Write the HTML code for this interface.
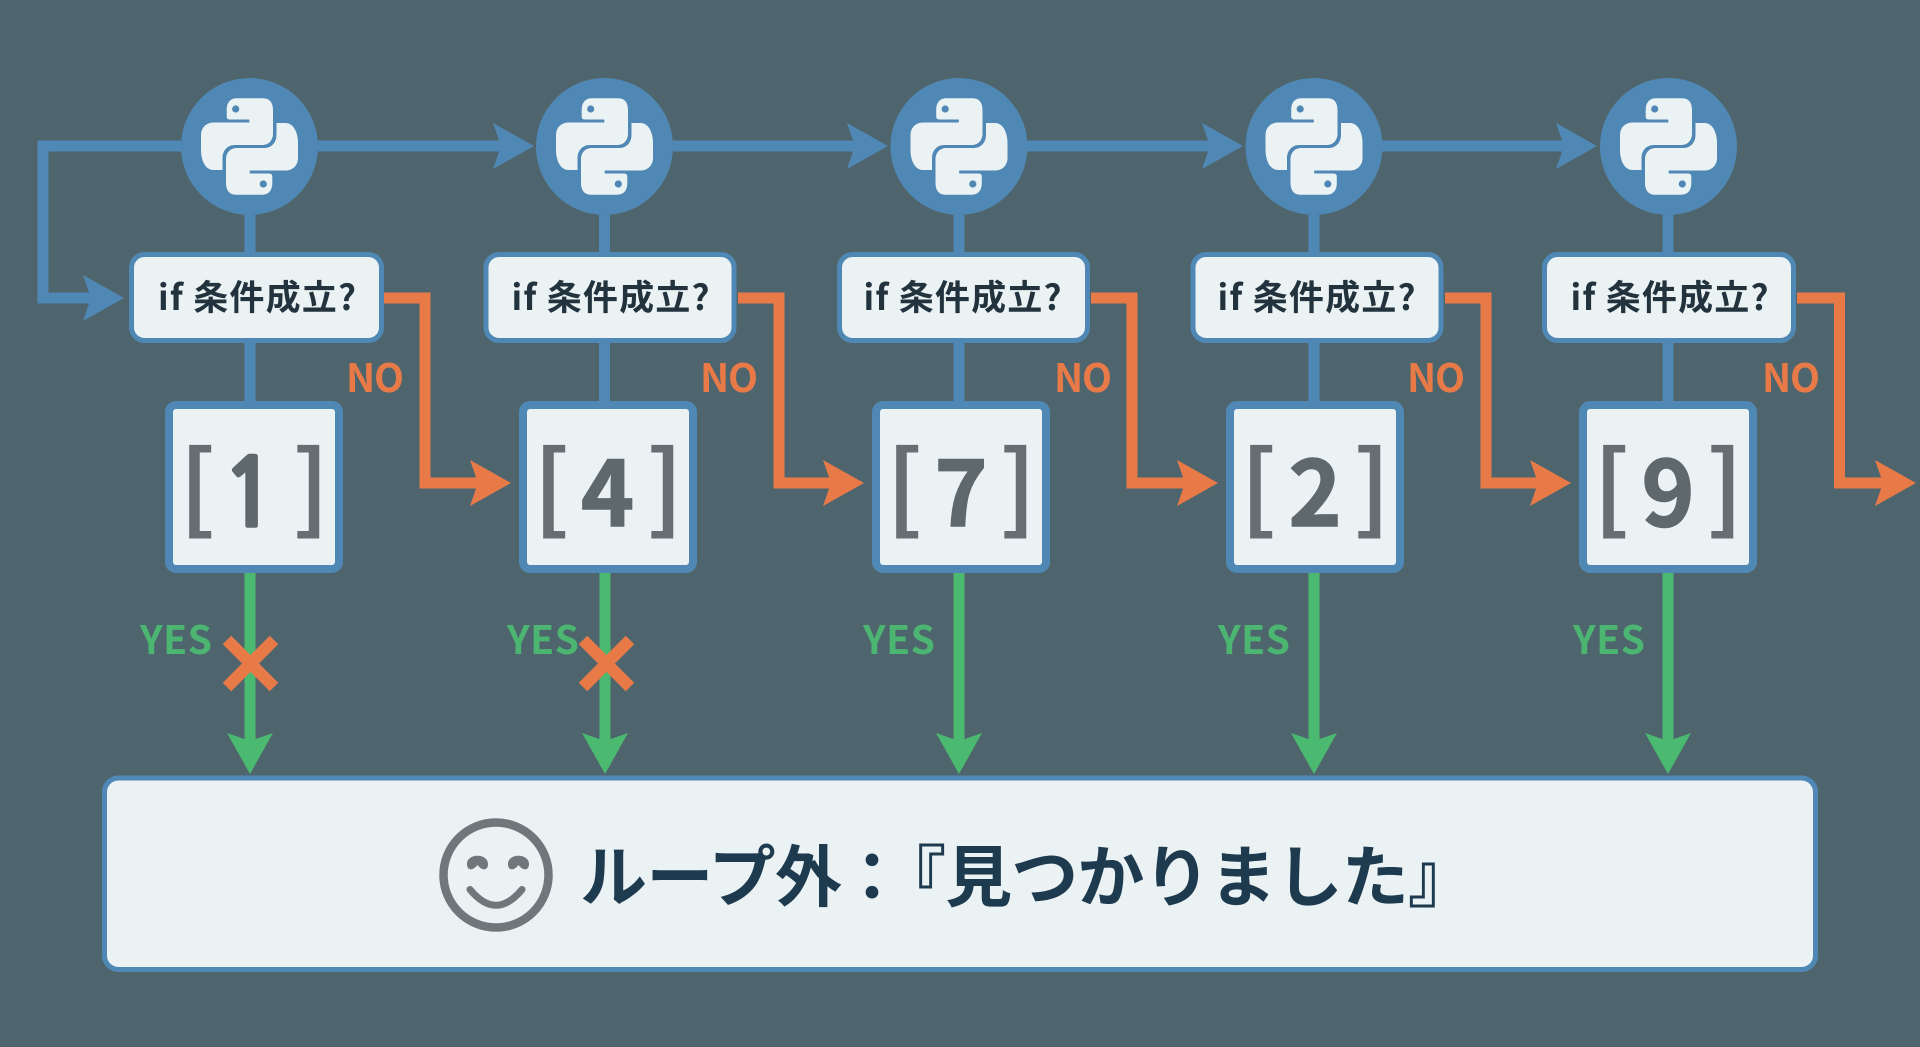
<!DOCTYPE html>
<html lang="ja"><head><meta charset="utf-8"><title>ループ</title>
<style>
html,body{margin:0;padding:0;background:#4f656d;width:1920px;height:1047px;overflow:hidden}
svg{display:block}
text{font-family:"Noto Sans CJK JP","Liberation Sans",sans-serif;font-weight:700}
.c{font-size:35px;fill:#23333e}
.d{font-size:90px;fill:#5f686d;stroke:#5f686d;stroke-width:1.500;text-anchor:middle}
.b{font-size:96px;fill:#666e73;font-weight:700}
.e{text-anchor:end}
.n{font-size:39px;fill:#e87a48}
.y{font-size:39px;fill:#4bb571}
.t{font-size:67px;fill:#1e3a4f}
</style></head><body>
<svg width="1920" height="1047" viewBox="0 0 1920 1047" xmlns="http://www.w3.org/2000/svg">
<defs>
<g id="py">
<circle r="68.5" fill="#5088b5"/>
<g id="sn"><path fill="#ebf2f4" d="M-22.8-36.5C-22.8-44-19-48.200-12.800-48.200H13.800C20-48.200 23.500-44 23.500-36.500V-13C23.500-6 19-1.500 12.800-1.500H-14.500C-22-1.500-27 4-27 11.800V23.500H-36C-44 23.500-48.500 14-48.500 3.500V-11.500C-48.500-19-43-24-36-24H-.2V-27H-19.500Q-22.800-27-22.800-30Z"/><circle cx="-13.800" cy="-37.500" r="3.600" fill="#5088b5"/></g>
<use href="#sn" transform="rotate(180)"/>
</g>
<path id="ah" d="M0 0L-41-23L-33 0L-41 23Z"/>
</defs>
<rect width="1920" height="1047" fill="#4f656d"/>

<g stroke="#5088b5" stroke-width="11" fill="none">
<path d="M181 146H43V298H95"/>
<path d="M318 146H505M673 146H860M1027 146H1214M1382 146H1570"/>
<path d="M250 215V252M250 343V401M604.500 215V252M604.500 343V401M959 215V252M959 343V401M1314 215V252M1314 343V401M1668 215V252M1668 343V401"/>
</g>
<g fill="#5088b5">
<use href="#ah" x="124" y="298"/>
<use href="#ah" x="534" y="146"/>
<use href="#ah" x="888" y="146"/>
<use href="#ah" x="1243" y="146"/>
<use href="#ah" x="1597" y="146"/>
</g>
<use href="#py" x="249.500" y="146.500"/>
<use href="#py" x="604.500" y="146.500"/>
<use href="#py" x="959" y="146.500"/>
<use href="#py" x="1314" y="146.500"/>
<use href="#py" x="1668.500" y="146.500"/>

<g fill="#ebf2f4" stroke="#5088b5" stroke-width="5">
<rect x="131.500" y="254.500" width="250" height="86" rx="13"/>
<rect x="486" y="254.500" width="248" height="86" rx="13"/>
<rect x="839.500" y="254.500" width="248" height="86" rx="13"/>
<rect x="1193" y="254.500" width="248" height="86" rx="13"/>
<rect x="1544.500" y="254.500" width="249" height="86" rx="13"/>
</g>
<text class="c" x="158" y="310" textLength="198">if 条件成立?</text>
<text class="c" x="511.500" y="310" textLength="198">if 条件成立?</text>
<text class="c" x="863.500" y="310" textLength="198">if 条件成立?</text>
<text class="c" x="1217.500" y="310" textLength="198">if 条件成立?</text>
<text class="c" x="1570.500" y="310" textLength="198">if 条件成立?</text>

<g fill="#ebf2f4" stroke="#5088b5" stroke-width="8">
<rect x="169" y="405" width="170" height="164" rx="7"/>
<rect x="523" y="405" width="170" height="164" rx="7"/>
<rect x="876" y="405" width="170" height="164" rx="7"/>
<rect x="1230" y="405" width="170" height="164" rx="7"/>
<rect x="1583" y="405" width="170" height="164" rx="7"/>
</g>
<text class="b" x="179.500" y="522">[</text><text class="d" x="249.500" y="526" style="font-family:'NanumGothic',sans-serif;font-size:94px;stroke-width:2.500">1</text><text class="b e" x="329" y="522">]</text>
<text class="b" x="533.500" y="522">[</text><text class="d" x="607.500" y="526">4</text><text class="b e" x="683" y="522">]</text>
<text class="b" x="886.500" y="522">[</text><text class="d" x="961" y="526">7</text><text class="b e" x="1036" y="522">]</text>
<text class="b" x="1240.500" y="522">[</text><text class="d" x="1315" y="526">2</text><text class="b e" x="1390" y="522">]</text>
<text class="b" x="1593.500" y="522">[</text><text class="d" x="1668" y="526">9</text><text class="b e" x="1743" y="522">]</text>

<g stroke="#e87a48" stroke-width="11" fill="none">
<path d="M384 298H425V483H485"/>
<path d="M738 298H779V483H838"/>
<path d="M1091 298H1132V483H1192"/>
<path d="M1445 298H1486V483H1545"/>
<path d="M1797 298H1839.500V483H1890"/>
</g>
<g fill="#e87a48">
<use href="#ah" x="511" y="483"/>
<use href="#ah" x="864" y="483"/>
<use href="#ah" x="1218" y="483"/>
<use href="#ah" x="1571" y="483"/>
<use href="#ah" x="1916" y="483"/>
</g>
<text class="n" x="346" y="392" textLength="58">NO</text>
<text class="n" x="700" y="392" textLength="58">NO</text>
<text class="n" x="1054" y="392" textLength="58">NO</text>
<text class="n" x="1407" y="392" textLength="58">NO</text>
<text class="n" x="1762" y="392" textLength="58">NO</text>

<g stroke="#4bb96f" stroke-width="11" fill="none">
<path d="M250 573V750M605 573V750M959 573V750M1314 573V750M1668 573V750"/>
</g>
<g fill="#4bb96f">
<use href="#ah" transform="translate(250 774) rotate(90)"/>
<use href="#ah" transform="translate(605 774) rotate(90)"/>
<use href="#ah" transform="translate(959 774) rotate(90)"/>
<use href="#ah" transform="translate(1314 774) rotate(90)"/>
<use href="#ah" transform="translate(1668 774) rotate(90)"/>
</g>
<text class="y" x="140" y="654" textLength="72">YES</text>
<text class="y" x="507" y="654" textLength="72">YES</text>
<text class="y" x="863" y="654" textLength="72">YES</text>
<text class="y" x="1218" y="654" textLength="72">YES</text>
<text class="y" x="1573" y="654" textLength="72">YES</text>
<g stroke="#e87a48" stroke-width="12" fill="none">
<path d="M227 640L274 687M274 640L227 687"/>
<path d="M583 640L630 687M630 640L583 687"/>
</g>

<rect x="104.500" y="778" width="1711" height="191.500" rx="14" fill="#ebf2f4" stroke="#5088b5" stroke-width="5"/>
<circle cx="496" cy="875" r="52.500" fill="none" stroke="#6f777b" stroke-width="8.500"/>
<path d="M470 889.500Q496 921 522 889.500" fill="none" stroke="#6f777b" stroke-width="7" stroke-linecap="round"/>
<path d="M467 864C467 853 488 853 488 864C488 871 482 871 477.500 865C473 871 467 871 467 864ZM508 864C508 853 529 853 529 864C529 871 523 871 518.500 865C514 871 508 871 508 864Z" fill="#6f777b"/>
<text class="t" x="580" y="901" textLength="262">ループ外</text>
<text class="t" x="872" y="901" text-anchor="middle">：</text>
<text class="t" x="879" y="901" textLength="596">『見つかりました』</text>
</svg>
</body></html>
